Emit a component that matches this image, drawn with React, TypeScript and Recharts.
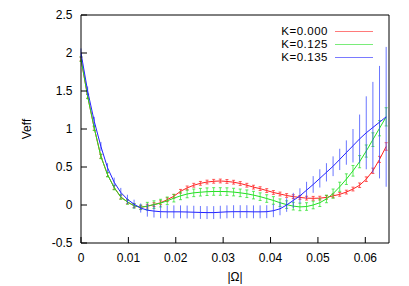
import React from 'react';
import { LineChart, Line, XAxis, YAxis, ErrorBar, Legend } from 'recharts';

const FONT = '"Liberation Sans", Arial, Helvetica, sans-serif';

// |Omega| sample points
const omega = [
  0, 0.0014, 0.0028, 0.0042, 0.0056, 0.007, 0.0084, 0.0098, 0.0112, 0.0126,
  0.014, 0.0154, 0.0168, 0.0182, 0.0196, 0.021, 0.0224, 0.0238, 0.0252, 0.0266,
  0.028, 0.0294, 0.0308, 0.0322, 0.0336, 0.035, 0.0364, 0.0378, 0.0392, 0.0406,
  0.042, 0.0434, 0.0448, 0.0462, 0.0476, 0.049, 0.0504, 0.0518, 0.0532, 0.0546,
  0.056, 0.0574, 0.0588, 0.0602, 0.0616, 0.063, 0.0644,
];

// K = 0.000
const vK000 = [
  1.92, 1.43, 1.01, 0.64, 0.4, 0.23, 0.105, 0.04, -0.01, -0.03,
  -0.015, 0.005, 0.03, 0.07, 0.115, 0.18, 0.225, 0.26, 0.285, 0.302,
  0.312, 0.316, 0.31, 0.3, 0.283, 0.26, 0.235, 0.215, 0.19, 0.165,
  0.145, 0.125, 0.11, 0.1, 0.09, 0.088, 0.09, 0.1, 0.12, 0.14,
  0.17, 0.21, 0.26, 0.34, 0.45, 0.6, 0.77,
];
const eK000 = [
  0.025, 0.025, 0.025, 0.025, 0.025, 0.025, 0.025, 0.025, 0.025, 0.025,
  0.025, 0.025, 0.025, 0.025, 0.025, 0.025, 0.025, 0.025, 0.025, 0.025,
  0.025, 0.025, 0.025, 0.025, 0.025, 0.025, 0.025, 0.025, 0.025, 0.025,
  0.025, 0.025, 0.025, 0.025, 0.025, 0.025, 0.025, 0.025, 0.025, 0.025,
  0.025, 0.025, 0.03, 0.03, 0.035, 0.04, 0.05,
];

// K = 0.125
const vK125 = [
  1.92, 1.43, 1.01, 0.64, 0.4, 0.23, 0.105, 0.04, -0.01, -0.03,
  -0.015, 0.005, 0.025, 0.055, 0.09, 0.12, 0.145, 0.16, 0.168, 0.175,
  0.178, 0.178, 0.176, 0.17, 0.16, 0.148, 0.13, 0.11, 0.085, 0.06,
  0.03, 0.005, -0.015, -0.025, -0.02, 0.0, 0.03, 0.08, 0.15, 0.24,
  0.34, 0.45, 0.57, 0.71, 0.86, 1.01, 1.16,
];
const eK125 = [
  0.03, 0.03, 0.03, 0.03, 0.03, 0.03, 0.03, 0.03, 0.03, 0.03,
  0.05, 0.05, 0.05, 0.05, 0.05, 0.05, 0.05, 0.05, 0.05, 0.05,
  0.05, 0.05, 0.05, 0.05, 0.05, 0.05, 0.05, 0.05, 0.05, 0.05,
  0.05, 0.05, 0.05, 0.05, 0.05, 0.05, 0.05, 0.05, 0.06, 0.06,
  0.07, 0.07, 0.08, 0.08, 0.09, 0.1, 0.12,
];

// K = 0.135
const vK135 = [
  2.0, 1.5, 1.1, 0.77, 0.49, 0.3, 0.165, 0.075, 0.01, -0.04,
  -0.068, -0.08, -0.088, -0.09, -0.09, -0.09, -0.092, -0.095, -0.098, -0.1,
  -0.1, -0.095, -0.09, -0.088, -0.088, -0.088, -0.09, -0.09, -0.088, -0.075,
  -0.05, 0.0, 0.06, 0.12, 0.195, 0.27, 0.35, 0.43, 0.51, 0.6,
  0.69, 0.78, 0.87, 0.95, 1.02, 1.09, 1.16,
];
const eK135 = [
  0.06, 0.06, 0.06, 0.06, 0.06, 0.06, 0.06, 0.06, 0.06, 0.06,
  0.085, 0.085, 0.085, 0.085, 0.085, 0.085, 0.085, 0.085, 0.085, 0.085,
  0.085, 0.085, 0.085, 0.085, 0.085, 0.085, 0.085, 0.085, 0.085, 0.085,
  0.085, 0.09, 0.1, 0.1, 0.11, 0.11, 0.12, 0.12, 0.13, 0.14,
  0.16, 0.22, 0.32, 0.48, 0.6, 0.74, 0.92,
];

const xTicks = [0, 0.01, 0.02, 0.03, 0.04, 0.05, 0.06];
const yTicks = [-0.5, 0, 0.5, 1, 1.5, 2, 2.5];
const seriesNames = ['K=0.000', 'K=0.125', 'K=0.135'];
const seriesColors = ['#ff2222', '#22e022', '#2222ff'];

const build = (vals: number[], errs: number[]) =>
  omega.map((w, i) => ({ w, v: vals[i], e: errs[i] }));

const dataK000 = build(vK000, eK000);
const dataK125 = build(vK125, eK125);
const dataK135 = build(vK135, eK135);

const renderLegend = () => (
  <div style={{ fontFamily: FONT, fontSize: 11.5, color: '#000' }}>
    {seriesNames.map((name, i) => (
      <div
        key={name}
        style={{ display: 'flex', alignItems: 'center', height: 13.3 }}
      >
        <span style={{ width: 66, textAlign: 'right', lineHeight: '13.3px', whiteSpace: 'nowrap', letterSpacing: 0.5 }}>
          {name}
        </span>
        <svg width={40} height={13} style={{ marginLeft: 7, display: 'block' }}>
          <line x1={0} y1={6.5} x2={38} y2={6.5} stroke={seriesColors[i]} strokeWidth={1.2} strokeOpacity={0.6} />
        </svg>
      </div>
    ))}
  </div>
);

const tickStyle = { fill: '#000', fontSize: 12, fontFamily: FONT };

export default function App() {
  return (
    <div style={{ position: 'absolute', left: 0, top: 0, width: 409, height: 286, background: '#fff' }}>
      <LineChart width={409} height={286} margin={{ top: 0, right: 0, bottom: 0, left: 0 }} style={{ fontFamily: FONT }}>
        <XAxis
          xAxisId="b"
          dataKey="w"
          type="number"
          orientation="bottom"
          domain={[0, 0.065]}
          allowDataOverflow
          ticks={xTicks}
          interval={0}
          height={43}
          tickSize={-6}
          tickMargin={16.5}
          axisLine={{ stroke: '#000' }}
          tickLine={{ stroke: '#000' }}
          tick={tickStyle}
          tickFormatter={(v: number) => String(v)}
          label={{ value: '|Ω|', position: 'insideBottom', offset: 5, fill: '#000', fontSize: 12, fontFamily: FONT }}
        />
        <XAxis
          xAxisId="t"
          dataKey="w"
          type="number"
          orientation="top"
          domain={[0, 0.065]}
          allowDataOverflow
          ticks={xTicks}
          interval={0}
          height={15}
          tickSize={-6}
          axisLine={{ stroke: '#000' }}
          tickLine={{ stroke: '#000' }}
          tick={false}
        />
        <YAxis
          yAxisId="l"
          type="number"
          orientation="left"
          domain={[-0.5, 2.5]}
          allowDataOverflow
          ticks={yTicks}
          interval={0}
          width={81}
          tickSize={-6}
          tickMargin={14.5}
          axisLine={{ stroke: '#000' }}
          tickLine={{ stroke: '#000' }}
          tick={tickStyle}
          tickFormatter={(v: number) => String(v)}
          label={{ value: 'Veff', angle: -90, position: 'insideLeft', offset: 27, fill: '#000', fontSize: 12, fontFamily: FONT, style: { textAnchor: 'middle' } }}
        />
        <YAxis
          yAxisId="r"
          type="number"
          orientation="right"
          domain={[-0.5, 2.5]}
          allowDataOverflow
          ticks={yTicks}
          interval={0}
          width={20}
          tickSize={-6}
          axisLine={{ stroke: '#000' }}
          tickLine={{ stroke: '#000' }}
          tick={false}
        />
        <Legend
          layout="vertical"
          align="center"
          verticalAlign="middle"
          wrapperStyle={{ top: 24.6, left: 262, width: 120, margin: 0 }}
          content={renderLegend}
        />
        <Line
          xAxisId="b"
          yAxisId="l"
          data={dataK000}
          dataKey="v"
          name={seriesNames[0]}
          type="linear"
          stroke={seriesColors[0]}
          strokeWidth={1}
          dot={false}
          activeDot={false}
          isAnimationActive={false}
        >
          <ErrorBar dataKey="e" direction="y" width={1.5} stroke={seriesColors[0]} strokeWidth={0.9} strokeOpacity={0.8} isAnimationActive={false} />
        </Line>
        <Line
          xAxisId="b"
          yAxisId="l"
          data={dataK125}
          dataKey="v"
          name={seriesNames[1]}
          type="linear"
          stroke={seriesColors[1]}
          strokeWidth={1}
          dot={false}
          activeDot={false}
          isAnimationActive={false}
        >
          <ErrorBar dataKey="e" direction="y" width={1.5} stroke={seriesColors[1]} strokeWidth={0.9} strokeOpacity={0.8} isAnimationActive={false} />
        </Line>
        <Line
          xAxisId="b"
          yAxisId="l"
          data={dataK135}
          dataKey="v"
          name={seriesNames[2]}
          type="linear"
          stroke={seriesColors[2]}
          strokeWidth={1}
          dot={false}
          activeDot={false}
          isAnimationActive={false}
        >
          <ErrorBar dataKey="e" direction="y" width={0} stroke="#3848ff" strokeOpacity={0.75} strokeWidth={1} isAnimationActive={false} />
        </Line>
      </LineChart>
    </div>
  );
}
